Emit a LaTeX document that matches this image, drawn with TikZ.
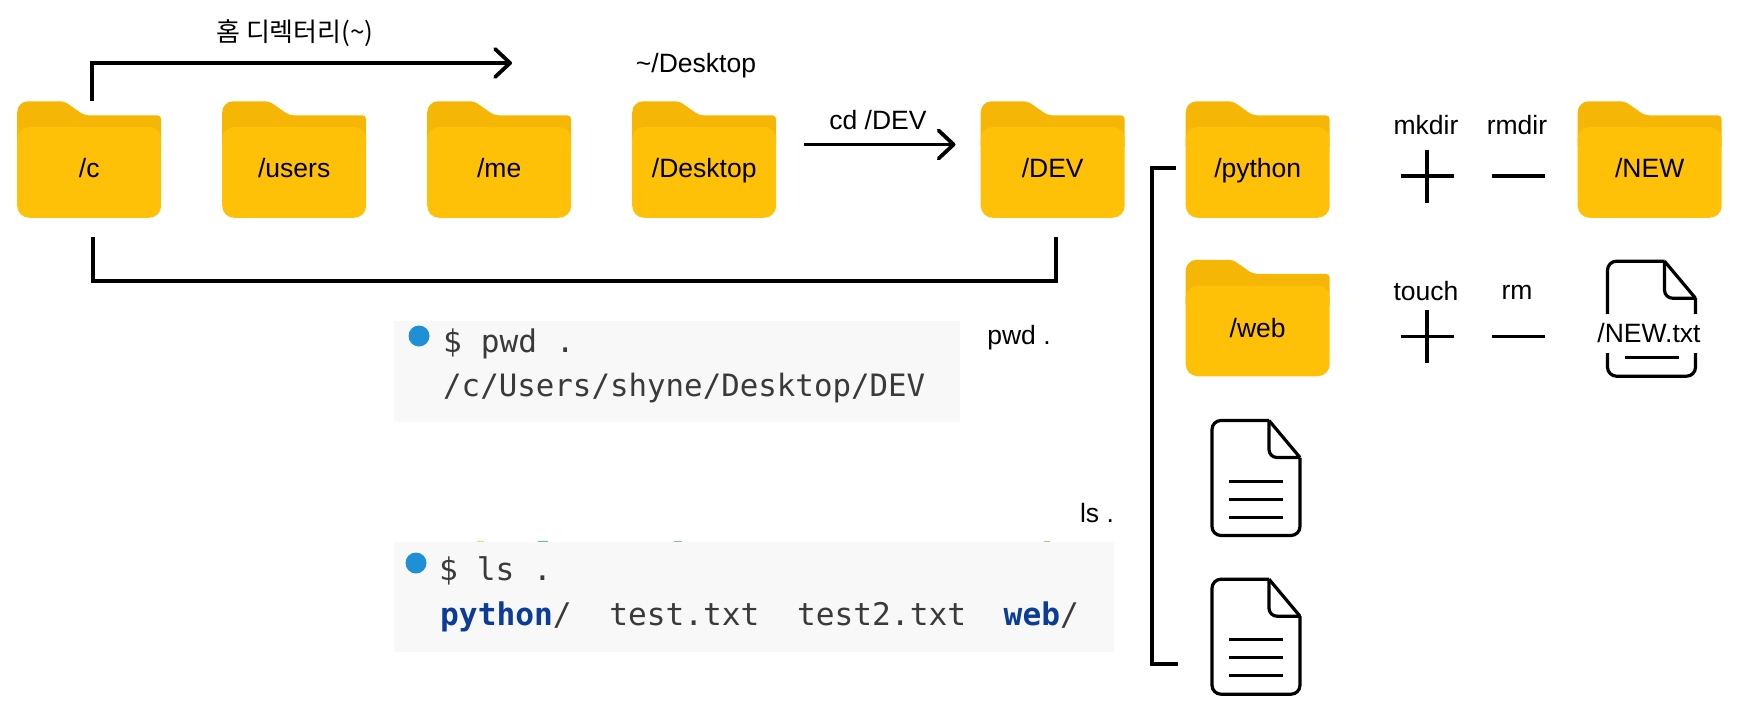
\documentclass[tikz,border=0pt]{standalone}
\usepackage{fontspec}
\setmainfont{Liberation Sans}
\setmonofont{DejaVu Sans Mono}
\newfontfamily\krfont{Noto Sans CJK KR}
\usetikzlibrary{arrows.meta,backgrounds}
\definecolor{folderlight}{HTML}{FFC107}
\definecolor{folderdark}{HTML}{F6B606}
\definecolor{termbg}{HTML}{F8F8F8}
\definecolor{termtext}{HTML}{3A3A3A}
\definecolor{termblue}{HTML}{0B3C96}
\definecolor{termdot}{HTML}{1F8FD6}
\tikzset{
    foldername/.style={minimum width=144pt, minimum height=116.5pt, inner sep=0pt, text height=42pt, text depth=7pt, font=\fontsize{26.5}{30}\selectfont},
    filebox/.style={minimum width=88pt, minimum height=115pt, inner sep=0pt},
    caption/.style={inner sep=0pt, font=\fontsize{26.5}{30}\selectfont},
    termline/.style={anchor=base west, inner sep=0pt, text=termtext, font=\fontsize{31.2}{36}\ttfamily},
    termbox/.style={fill=termbg, anchor=north west, inner sep=0pt},
    termbullet/.style={circle, fill=termdot, minimum size=21pt, inner sep=0pt},
    elbow/.style={line width=4pt},
    openarrow/.style={line width=3.8pt, -{Straight Barb[length=15pt,width=28pt,line width=3.8pt,round]}},
    folderbody/.pic={
        \fill[folderdark, rounded corners=11pt] (-72,-10) -- (-72,-58.25) -- (-40,-58.25) [rounded corners=4pt] -- (-25,-58.25) -- (-5,-44.25) -- (72,-44.25) -- (72,-10) -- cycle;
        \fill[folderlight, rounded corners=12pt] (-72,-32.5) rectangle (72,58.25);
    },
    filepage/.pic={
        \draw[line width=3.2pt, rounded corners=9pt] (13,-57.5) -- (-44,-57.5) -- (-44,57.5) -- (44,57.5) -- (44,-20.5);
        \draw[line width=3.2pt, line join=round] (44,-20.5) -- (13,-57.5);
        \draw[line width=3.2pt, rounded corners=8pt] (13,-57.5) -- (13,-20.5) -- (44,-20.5);
        \draw[line width=3pt] (-27,3) -- (27,3);
        \draw[line width=3pt] (-27,21) -- (27,21);
        \draw[line width=3pt] (-27,39) -- (27,39);
    },
    plussign/.pic={
        \draw[line width=3.4pt] (-26.5,0) -- (26.5,0);
        \draw[line width=3.4pt] (0,-26.5) -- (0,26.5);
    },
    minussign/.pic={
        \draw[line width=3.4pt] (-26.5,0) -- (26.5,0);
    }
}
\begin{document}
\begin{tikzpicture}[x=1pt, y=-1pt, node distance=205pt]
    \useasboundingbox (0,0) rectangle (1740,718);

    % folders
    \node[foldername] (c) at (89.2,159.5) {/c};
    \node[foldername] (users) [right of=c] {/users};
    \node[foldername] (me) [right of=users] {/me};
    \node[foldername] (desktop) [right of=me] {/Desktop};
    \node[foldername] (dev) [right of=desktop, node distance=348.5pt] {/DEV};
    \node[foldername] (python) [right of=dev] {/python};
    \node[foldername] (new) [right of=python, node distance=392pt] {/NEW};
    \node[foldername, text height=45pt] (web) [below of=python, node distance=158.5pt] {/web};

    % files
    \node[filebox] (file1) at (1256,478) {};
    \node[filebox] (file2) [below of=file1, node distance=158.7pt] {};
    \node[filebox] (newfile) at (1651.5,318.7) {};
    \node[caption, fill=white, minimum height=39pt] (newtxt) at (1649,333) {/NEW.txt};

    \begin{scope}[on background layer]
        \foreach \f in {c,users,me,desktop,dev,python,new,web} \pic at (\f) {folderbody};
        \foreach \f in {file1,file2,newfile} \pic at (\f) {filepage};
    \end{scope}

    % labels
    \node[caption, font=\fontsize{26}{30}\krfont] (home) at (295,33) {홈 디렉터리(\textasciitilde)};
    \node[caption] (desktoppath) at (696,66) {\textasciitilde/Desktop};
    \node[caption] (cddev) at (878,120) {cd /DEV};
    \node[caption] (mkdir) at (1426,125.5) {mkdir};
    \node[caption] (rmdir) at (1517,125.5) {rmdir};
    \node[caption] (touch) at (1426,291) {touch};
    \node[caption] (rm) at (1517,292.5) {rm};
    \node[caption] (pwdlabel) at (1019,337.5) {pwd .};
    \node[caption] (lslabel) at (1097,513) {ls .};

    % plus and minus
    \pic at (1427,176) {plussign};
    \pic at (1518.5,176) {minussign};
    \pic at (1427,336.7) {plussign};
    \pic at (1518.5,336.7) {minussign};

    % terminals
    \node[termbox, minimum width=566pt, minimum height=101pt] (pwdterm) at (394,321) {};
    \node[termbullet] (pwddot) at (419,336) {};
    \node[termline] (pwdcmd) at (443,352.5) {\$ pwd .};
    \node[termline, font=\fontsize{30.8}{36}\ttfamily] (pwdout) at (443,396) {/c/Users/shyne/Desktop/DEV};

    \node[termbox, minimum width=720pt, minimum height=110pt] (lsterm) at (394,542) {};
    \fill[green!40!yellow!70] (477,540.8) rectangle (484,542);
    \fill[green!50!teal!70] (538,540.8) rectangle (548,542);
    \fill[teal!50] (674,540.8) rectangle (682,542);
    \fill[olive!50] (1044,540.8) rectangle (1050,542);
    \node[termbullet] (lsdot) at (416,563) {};
    \node[termline] (lscmd) at (439,580) {\$ ls .};
    \node[termline] (lsout) at (440,625) {\textcolor{termblue}{\bfseries python}/\ \ test.txt\ \ test2.txt\ \ \textcolor{termblue}{\bfseries web}/};

    % connectors
    \coordinate (homeend) at (512,63);
    \coordinate (cdstart) at ([xshift=28pt,yshift=15pt]desktop.east);
    \coordinate (cdend) at ([xshift=-25pt,yshift=15pt]dev.west);
    \coordinate (treetop) at ([xshift=-10pt,yshift=-8pt]python.west);
    \coordinate (treebottom) at ([xshift=-34pt,yshift=-27pt]file2.west);
    \draw[openarrow] ([xshift=3pt]c.north) |- (homeend);
    \draw[openarrow] (cdstart) -- (cdend);
    \draw[elbow] ([xshift=3.3pt,yshift=-19.5pt]c.south) -- ++(0,44) -| ([xshift=3pt,yshift=-19.5pt]dev.south);
    \draw[elbow] (treetop) -- ++(-24,0) |- (treebottom);
\end{tikzpicture}
\end{document}
